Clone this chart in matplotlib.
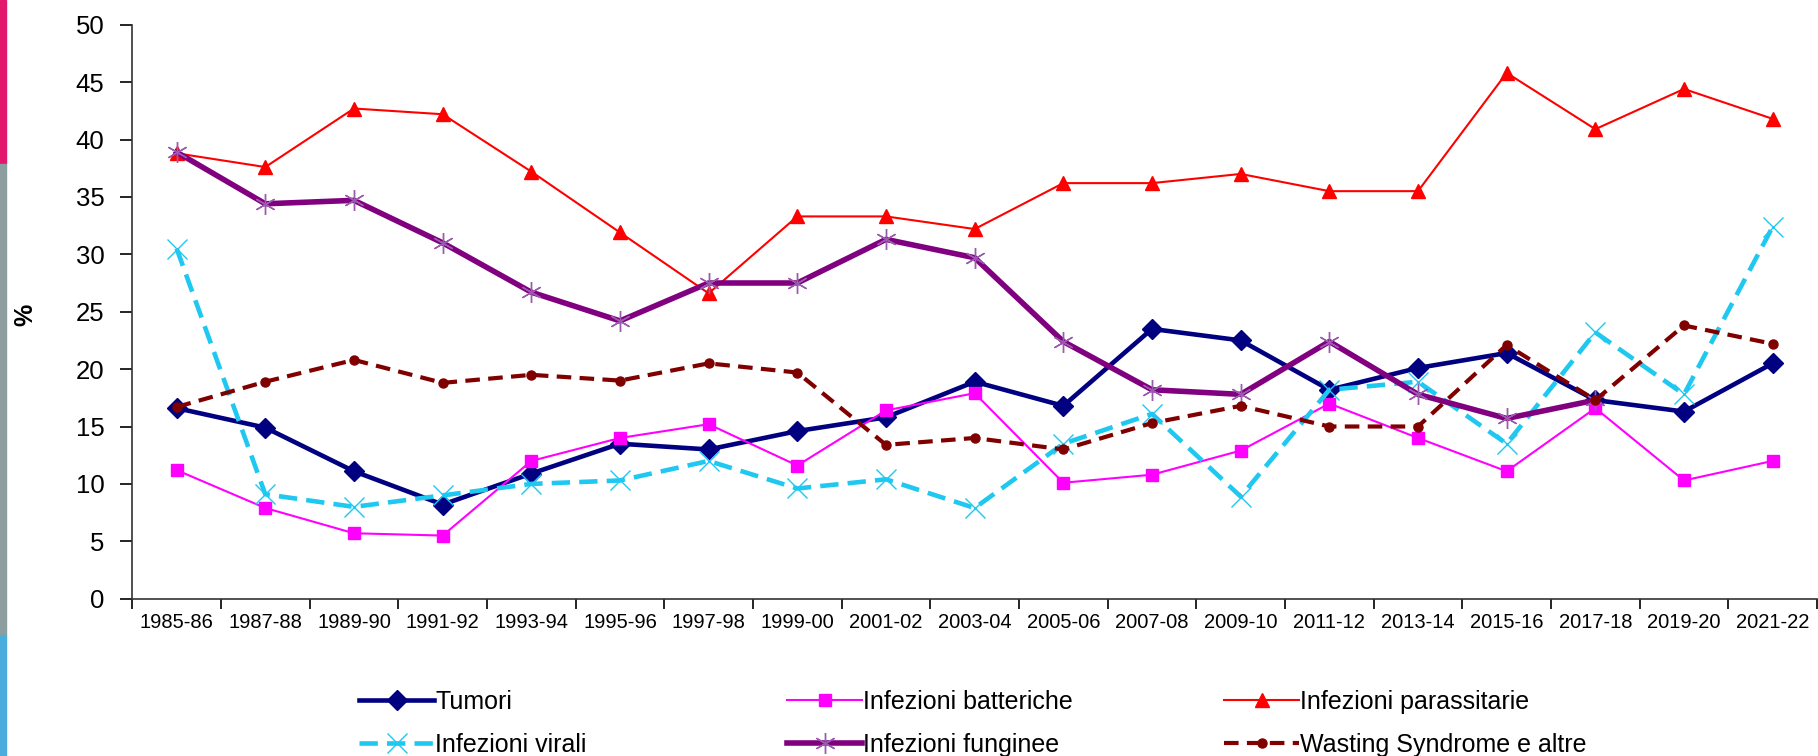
import numpy as np
import matplotlib.pyplot as plt
from matplotlib.patches import Rectangle

periods = ['1985-86', '1987-88', '1989-90', '1991-92', '1993-94', '1995-96', '1997-98',
           '1999-00', '2001-02', '2003-04', '2005-06', '2007-08', '2009-10', '2011-12',
           '2013-14', '2015-16', '2017-18', '2019-20', '2021-22']

tumori = [16.6, 14.9, 11.1, 8.2, 10.9, 13.5, 13.0, 14.6, 15.8, 18.9, 16.8, 23.5, 22.5,
          18.2, 20.1, 21.4, 17.3, 16.3, 20.5]
batteriche = [11.2, 7.9, 5.7, 5.5, 12.0, 14.0, 15.2, 11.6, 16.4, 17.9, 10.1, 10.8, 12.9,
              17.0, 14.0, 11.1, 16.6, 10.3, 12.0]
parassitarie = [38.8, 37.6, 42.7, 42.2, 37.2, 31.9, 26.6, 33.3, 33.3, 32.2, 36.2, 36.2, 37.0,
                35.5, 35.5, 45.8, 40.9, 44.4, 41.8]
virali = [30.5, 9.1, 8.0, 9.0, 10.0, 10.3, 12.0, 9.6, 10.4, 7.9, 13.5, 16.1, 8.9,
          18.2, 18.9, 13.5, 23.2, 17.8, 32.4]
funginee = [38.9, 34.4, 34.7, 31.0, 26.7, 24.2, 27.5, 27.5, 31.3, 29.7, 22.4, 18.2, 17.8,
            22.4, 17.8, 15.7, 17.3, np.nan, np.nan]
wasting = [16.7, 18.9, 20.8, 18.8, 19.5, 19.0, 20.5, 19.7, 13.4, 14.0, 13.0, 15.3, 16.8,
           15.0, 15.0, 22.1, 17.3, 23.8, 22.2]

plt.rcParams['font.family'] = ['Liberation Sans', 'DejaVu Sans']

W, H = 1818, 756
fig = plt.figure(figsize=(W / 100, H / 100), dpi=100)
ax = fig.add_axes([132.3 / W, 1 - 598.7 / H, (1817 - 132.3) / W, 574 / H])

x = np.arange(len(periods))
l_tum, = ax.plot(x, tumori, color='#000080', lw=3.3, marker='D', ms=10.5, label='Tumori')
l_bat, = ax.plot(x, batteriche, color='#FF00FF', lw=1.5, marker='s', ms=9, label='Infezioni batteriche')
l_par, = ax.plot(x, parassitarie, color='#FF0000', lw=1.5, marker='^', ms=10, label='Infezioni parassitarie')
l_vir, = ax.plot(x, virali, color='#1EC8F0', lw=3.3, ls=(0, (4, 2)), marker='x', ms=14,
                 mew=1.0, label='Infezioni virali')
l_fun, = ax.plot(x, funginee, color='#800080', lw=4, marker=(6, 2, 0), ms=15, mew=1.0,
                 mec='#9A5AAE', label='Infezioni funginee')
l_was, = ax.plot(x, wasting, color='#800000', lw=3, ls=(0, (3.5, 2)), marker='o', ms=6.5,
                 label='Wasting Syndrome e altre')

ax.set_xlim(-0.5, len(periods) - 0.5)
ax.set_ylim(0, 50)
ax.set_yticks(np.arange(0, 51, 5))
ax.set_xticks(x)
ax.set_xticklabels(periods)
ax.set_xticks(np.arange(-0.5, len(periods)), minor=True)
ax.tick_params(axis='x', which='major', length=0, pad=10, labelsize=14.5)
ax.tick_params(axis='x', which='minor', length=7, width=1.2, direction='out')
ax.tick_params(axis='y', length=9, width=1.2, pad=11, labelsize=18.5)
for s in ['top', 'right']:
    ax.spines[s].set_visible(False)
for s in ['left', 'bottom']:
    ax.spines[s].set_linewidth(1.2)
    ax.spines[s].set_color('#333333')

fig.text(25 / W, 1 - 315 / H, '%', rotation=90, fontsize=18, fontweight='bold',
         ha='center', va='center')

# legend in three columns
leg_font = {'family': ['Liberation Sans Narrow', 'Liberation Sans'], 'size': 18}
cols = [([l_tum, l_vir], 359), ([l_bat, l_fun], 787), ([l_par, l_was], 1224)]
for handles, xpos in cols:
    fig.legend(handles=handles, loc='upper left', bbox_to_anchor=(xpos / W, 1 - 690 / H),
               frameon=False, prop=leg_font, handlelength=3.0, handletextpad=0.05,
               labelspacing=0.75, borderpad=0, borderaxespad=0)

# coloured strip on the left edge
fig.patches.append(Rectangle((0, 1 - 164 / H), 6 / W, 164 / H, transform=fig.transFigure,
                             color='#E2186F', zorder=0))
fig.patches.append(Rectangle((0, 1 - 635 / H), 6 / W, (635 - 164) / H, transform=fig.transFigure,
                             color='#8C9EA0', zorder=0))
fig.patches.append(Rectangle((0, 0), 6 / W, (H - 635) / H, transform=fig.transFigure,
                             color='#4AADDD', zorder=0))

fig.savefig('out.png', dpi=100)
